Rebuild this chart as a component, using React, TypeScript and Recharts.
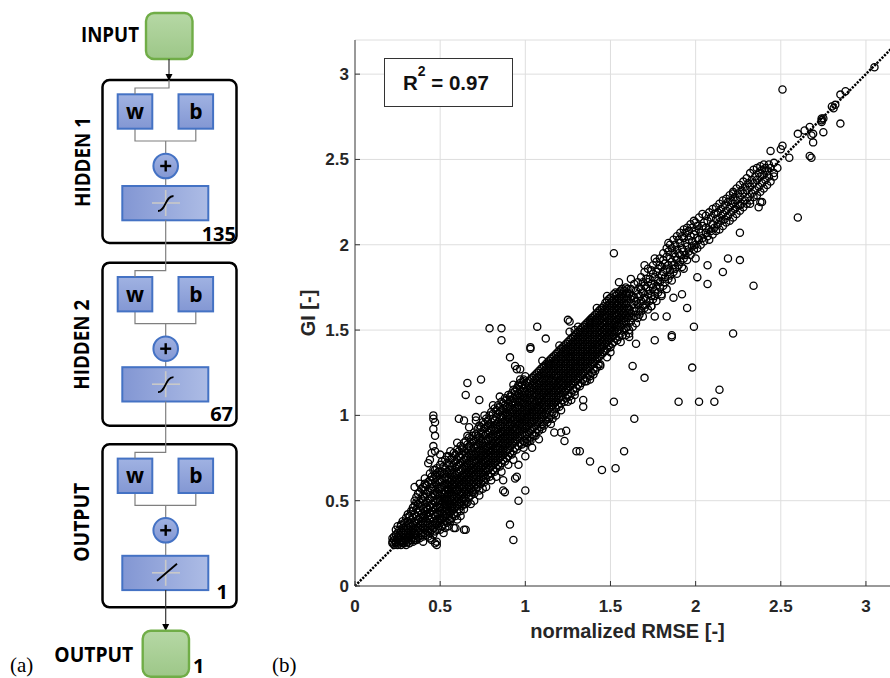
import React from "react";
import { ScatterChart, Scatter, XAxis, YAxis, CartesianGrid, ReferenceLine } from "recharts";

const xTicks = [0, 0.5, 1, 1.5, 2, 2.5, 3];
const yTicks = [0, 0.5, 1, 1.5, 2, 2.5, 3];
const axisMax = 3.2;
const r2Value = "0.97";

const layers = [
  { name: "HIDDEN 1", top: 80, size: "135", linear: false, transTop: 106, sizeX: 236, sizeY: 160.5, nameY: 82 },
  { name: "HIDDEN 2", top: 262.7, size: "67", linear: false, transTop: 104.5, sizeX: 233, sizeY: 158, nameY: 82 },
  { name: "OUTPUT", top: 444.3, size: "1", linear: true, transTop: 111.5, sizeX: 228, sizeY: 155, nameY: 78 },
];

// scatter values in hundredths. band rows: [x, y1, y2, ...]
const bandLow = [
  [22, 25, 26, 28], [23, 24, 27, 29], [24, 25, 26, 30, 33], [25, 24, 27, 28, 31, 35],
  [26, 25, 28, 30, 33], [27, 24, 26, 29, 32, 36], [28, 26, 27, 31, 34, 38], [29, 25, 28, 30, 33, 37],
  [30, 24, 27, 29, 32, 35, 40], [31, 26, 28, 31, 34, 38, 42], [32, 25, 29, 30, 33, 36, 41],
  [33, 27, 28, 32, 35, 39, 44], [34, 26, 30, 33, 36, 40, 46], [35, 28, 31, 34, 37, 42, 47, 50],
  [36, 27, 30, 35, 38, 41, 45, 52], [37, 29, 32, 34, 39, 43, 48, 54], [38, 28, 33, 36, 40, 44, 49, 55],
  [39, 30, 31, 35, 38, 42, 47, 51, 57], [40, 29, 34, 37, 41, 45, 50, 53, 58],
  [41, 31, 33, 36, 40, 44, 48, 52, 56, 60], [42, 30, 35, 38, 42, 46, 49, 54, 59],
  [43, 32, 34, 37, 41, 45, 50, 55, 61], [44, 31, 36, 39, 43, 47, 51, 56, 62, 66],
  [45, 33, 35, 40, 44, 48, 52, 57, 60, 64], [46, 30, 34, 38, 42, 46, 50, 54, 58, 63, 68],
  [47, 32, 37, 41, 45, 49, 53, 56, 61, 65], [48, 33, 36, 39, 43, 47, 51, 55, 59, 64, 69],
  [49, 35, 38, 42, 46, 50, 54, 57, 62, 67],
];

const bandMid = [
  [50, 33, 37, 40, 44, 46, 50, 53, 57, 61, 65, 71], [51, 35, 39, 43, 45, 48, 52, 55, 58, 62, 67, 73],
  [52, 36, 40, 42, 46, 49, 51, 54, 59, 63, 66, 70], [53, 34, 38, 41, 44, 48, 50, 54, 56, 60, 64, 69, 74],
  [54, 37, 42, 45, 47, 51, 53, 57, 60, 62, 67, 72], [55, 39, 41, 44, 48, 50, 54, 56, 59, 63, 66, 71, 76],
  [56, 38, 43, 46, 49, 52, 55, 58, 61, 65, 68, 74], [57, 40, 44, 47, 50, 53, 57, 59, 62, 66, 70, 75],
  [58, 42, 45, 48, 51, 55, 58, 60, 64, 67, 72, 78], [59, 41, 46, 49, 53, 56, 59, 61, 65, 69, 73, 77],
  [60, 43, 47, 50, 52, 56, 60, 62, 66, 70, 74, 80], [61, 45, 48, 51, 54, 58, 61, 63, 67, 71, 76, 79],
  [62, 44, 49, 53, 55, 59, 62, 64, 68, 72, 75, 82], [63, 47, 50, 54, 57, 60, 63, 65, 69, 73, 77, 81],
  [64, 48, 52, 55, 58, 61, 64, 66, 70, 74, 79, 84], [65, 50, 53, 56, 59, 62, 65, 68, 71, 75, 78, 85],
  [66, 49, 54, 57, 60, 63, 66, 69, 72, 76, 80, 83], [67, 52, 55, 58, 61, 64, 67, 70, 73, 77, 82, 87],
  [68, 53, 57, 59, 62, 66, 68, 71, 75, 78, 81, 86], [69, 55, 56, 60, 64, 67, 69, 72, 76, 79, 84, 88],
  [70, 54, 58, 61, 65, 68, 70, 73, 77, 81, 85, 90], [71, 57, 60, 63, 66, 69, 72, 74, 78, 82, 86, 89],
  [72, 58, 61, 64, 67, 70, 73, 76, 79, 83, 88, 92], [73, 56, 62, 65, 68, 71, 74, 77, 80, 84, 87, 94],
  [74, 60, 63, 66, 69, 72, 75, 78, 82, 85, 90, 93], [75, 62, 64, 67, 70, 73, 76, 79, 83, 86, 89, 96],
  [76, 61, 65, 68, 72, 74, 77, 80, 84, 88, 92, 95], [77, 63, 67, 69, 73, 75, 78, 81, 85, 89, 93, 98],
  [78, 65, 68, 71, 74, 77, 79, 82, 86, 90, 94, 97], [79, 64, 69, 72, 75, 78, 80, 83, 87, 91, 95, 100],
  [80, 66, 70, 73, 76, 79, 82, 85, 88, 92, 96, 102], [81, 68, 71, 74, 77, 80, 83, 86, 89, 93, 98, 101],
  [82, 67, 72, 75, 78, 81, 84, 87, 91, 94, 97, 104], [83, 69, 73, 76, 79, 82, 85, 88, 92, 95, 99, 103],
  [84, 71, 74, 77, 80, 84, 86, 89, 93, 96, 101, 106], [85, 70, 75, 78, 81, 85, 88, 90, 94, 98, 102, 105],
  [86, 72, 76, 79, 83, 86, 89, 91, 95, 99, 103, 108], [87, 74, 77, 80, 84, 87, 90, 93, 96, 100, 104, 107],
  [88, 73, 78, 82, 85, 88, 91, 94, 97, 101, 106, 110], [89, 75, 79, 83, 86, 89, 92, 95, 99, 102, 105, 109],
  [90, 76, 80, 84, 87, 90, 93, 96, 100, 104, 107, 112], [91, 78, 82, 85, 88, 91, 94, 98, 101, 105, 109, 111],
  [92, 77, 83, 86, 89, 92, 95, 99, 102, 106, 108, 113], [93, 79, 84, 87, 90, 93, 97, 100, 103, 107, 110, 115],
  [94, 81, 85, 88, 91, 95, 98, 101, 104, 108, 112, 114], [95, 80, 86, 89, 92, 96, 99, 102, 105, 109, 111, 116],
  [96, 82, 87, 90, 94, 97, 100, 103, 106, 110, 113, 117], [97, 84, 88, 91, 95, 98, 101, 104, 108, 111, 115, 119],
  [98, 83, 89, 93, 96, 99, 102, 105, 109, 112, 114, 118], [99, 85, 90, 94, 97, 100, 103, 107, 110, 113, 116, 120],
];

const bandHigh = [
  [100, 84, 88, 92, 95, 98, 101, 104, 107, 110, 114, 118], [101, 86, 89, 93, 96, 99, 102, 105, 108, 112, 115, 119],
  [102, 85, 90, 94, 97, 100, 103, 106, 109, 113, 117, 120], [103, 87, 91, 95, 98, 101, 104, 107, 110, 114, 116, 121],
  [104, 89, 92, 96, 99, 102, 105, 108, 112, 115, 118, 122], [105, 88, 93, 97, 100, 103, 106, 109, 113, 116, 120, 123],
  [106, 90, 94, 98, 101, 104, 107, 111, 114, 117, 121, 124], [107, 92, 96, 99, 102, 105, 108, 112, 115, 118, 122, 125],
  [108, 91, 97, 100, 103, 106, 110, 113, 116, 119, 123, 126], [109, 93, 98, 101, 104, 108, 111, 114, 117, 120, 124, 127],
  [110, 95, 99, 102, 106, 109, 112, 115, 118, 121, 125, 128], [111, 94, 100, 104, 107, 110, 113, 116, 119, 122, 126, 129],
  [112, 97, 101, 105, 108, 111, 114, 117, 120, 124, 127, 130], [113, 99, 103, 106, 109, 112, 115, 118, 121, 125, 128, 131],
  [114, 98, 104, 107, 110, 113, 116, 119, 122, 126, 129, 132], [115, 100, 105, 108, 111, 114, 117, 120, 124, 127, 130, 133],
  [116, 102, 106, 109, 112, 115, 118, 121, 125, 128, 131, 134], [117, 101, 107, 110, 113, 116, 119, 123, 126, 129, 132, 135],
  [118, 104, 108, 111, 114, 117, 120, 124, 127, 130, 133, 136], [119, 106, 109, 112, 115, 118, 122, 125, 128, 131, 134, 137],
  [120, 105, 110, 113, 116, 120, 123, 126, 129, 132, 135, 138], [121, 107, 111, 115, 118, 121, 124, 127, 130, 133, 136, 139],
  [122, 109, 113, 116, 119, 122, 125, 128, 131, 134, 137, 140], [123, 108, 114, 117, 120, 123, 126, 129, 132, 135, 138, 141],
  [124, 110, 115, 118, 121, 124, 127, 130, 133, 136, 139, 142], [125, 112, 116, 119, 122, 125, 128, 131, 134, 137, 140, 143],
  [126, 111, 117, 120, 123, 126, 129, 132, 135, 138, 141, 144], [127, 113, 118, 121, 124, 127, 130, 133, 136, 139, 142, 145],
  [128, 115, 119, 122, 125, 128, 131, 134, 137, 140, 143, 146], [129, 114, 120, 123, 126, 129, 132, 135, 138, 141, 144, 147],
  [130, 116, 121, 124, 127, 130, 133, 136, 139, 142, 145, 148], [131, 118, 122, 125, 128, 131, 134, 137, 140, 143, 146, 149],
  [132, 117, 123, 126, 129, 132, 135, 138, 141, 144, 147, 150], [133, 119, 124, 127, 130, 133, 136, 139, 142, 145, 148, 151],
  [134, 121, 125, 128, 131, 134, 137, 140, 143, 146, 149, 152], [135, 120, 126, 129, 132, 135, 138, 141, 144, 147, 150, 153],
  [136, 122, 127, 130, 133, 136, 139, 142, 145, 148, 151, 154], [137, 124, 128, 131, 134, 137, 140, 143, 146, 149, 152, 155],
  [138, 123, 129, 132, 135, 138, 141, 144, 147, 150, 153, 156], [139, 125, 130, 133, 136, 139, 142, 145, 148, 151, 154, 157],
  [140, 127, 131, 134, 137, 140, 143, 146, 149, 152, 155, 158], [141, 126, 132, 135, 138, 141, 144, 147, 150, 153, 156, 159],
  [142, 128, 133, 136, 139, 142, 145, 148, 151, 154, 157, 160], [143, 130, 134, 137, 140, 143, 146, 149, 152, 155, 158, 161],
  [144, 129, 135, 138, 141, 144, 147, 150, 153, 156, 159, 162],
  [145, 136, 140, 143, 146, 149, 152, 154, 157, 160, 163], [146, 137, 141, 144, 147, 150, 153, 155, 158, 161, 164],
  [147, 138, 142, 145, 148, 151, 154, 157, 159, 162, 166], [148, 139, 143, 146, 149, 152, 155, 158, 161, 164, 167],
  [149, 141, 144, 147, 150, 153, 156, 159, 162, 165, 168], [150, 140, 145, 148, 151, 154, 157, 160, 163, 166, 169],
  [151, 142, 146, 149, 152, 155, 158, 161, 164, 167], [152, 143, 147, 150, 153, 156, 159, 162, 165, 168, 171],
  [153, 145, 148, 152, 155, 158, 160, 163, 166, 170], [154, 144, 149, 153, 156, 159, 162, 165, 168, 171],
  [155, 146, 150, 154, 157, 160, 163, 166, 169, 172], [156, 148, 152, 155, 158, 161, 164, 167, 170, 173],
  [157, 147, 153, 156, 159, 162, 165, 168, 171, 174], [158, 150, 154, 157, 160, 163, 166, 169, 173],
  [159, 151, 155, 159, 162, 165, 168, 171, 175], [160, 152, 157, 160, 163, 166, 169, 172, 174],
];

const bandTop = [
  [161, 150, 158, 162, 171], [162, 155, 160, 168, 174], [163, 152, 157, 165, 170], [164, 158, 163, 169, 177],
  [165, 154, 161, 167, 173], [166, 157, 165, 171, 178], [167, 159, 162, 170, 175], [168, 161, 167, 174, 181],
  [169, 158, 164, 172, 178], [170, 163, 169, 176, 184], [171, 165, 168, 175, 180], [172, 162, 171, 178, 186],
  [173, 167, 173, 180], [174, 164, 170, 177, 185], [175, 168, 175, 183, 188], [176, 170, 173, 181],
  [177, 167, 176, 184, 190], [178, 172, 179, 186], [179, 175, 178, 188, 192], [180, 171, 182, 187],
  [181, 176, 184, 191, 195], [182, 178, 181, 189], [183, 174, 186, 193, 198], [184, 180, 188, 196],
  [185, 182, 185, 192, 200], [186, 179, 190, 198], [187, 184, 188, 195, 203], [188, 186, 193, 200],
  [189, 183, 191, 197, 205], [190, 188, 195, 203], [191, 190, 194, 201, 207], [192, 187, 198, 205],
  [193, 192, 196, 204, 209], [194, 194, 201, 207], [195, 191, 199, 210], [196, 196, 203, 208],
  [197, 194, 205, 212], [198, 199, 202, 210], [199, 197, 206, 214], [200, 200, 208, 213],
  [201, 198, 204, 211], [202, 203, 209, 216], [203, 200, 207], [204, 204, 211, 218], [205, 202, 213],
  [206, 207, 210, 217], [207, 205, 214], [208, 203, 209, 219], [209, 208, 216], [210, 206, 212, 221],
  [211, 210, 218], [212, 208, 215, 222], [213, 212, 219], [214, 209, 216, 224], [215, 214, 221],
  [216, 211, 218, 226], [217, 215, 223], [218, 213, 220, 227], [219, 217, 225], [220, 214, 222, 229],
  [221, 219, 226], [222, 216, 224, 231], [223, 221, 228], [224, 218, 226, 233], [225, 223, 230],
  [226, 220, 228, 235], [227, 224, 232], [228, 222, 230, 237], [229, 226, 234], [230, 224, 232, 239],
  [231, 228, 236], [232, 226, 234, 242], [233, 230, 238], [234, 228, 236, 244], [235, 232, 240],
  [236, 229, 238, 245], [237, 234, 242], [238, 231, 240, 246], [239, 236, 244], [240, 233, 241, 247],
  [241, 238, 245], [242, 235, 243], [243, 240, 247], [244, 237, 245], [246, 242, 248], [248, 245],
];

// single points [x, y] in hundredths
const upperCluster = [
  [251, 291], [260, 265], [264, 267], [267, 269], [269, 265], [268, 264], [269, 260], [267, 252], [268, 251],
  [274, 274], [274, 273], [275, 266], [274, 272], [275, 274], [280, 281], [282, 282], [281, 280], [285, 271],
  [285, 288], [288, 290], [305, 304], [251, 258], [250, 256], [255, 251], [244, 255], [260, 216], [246, 240],
];

const outliersAbove = [
  [79, 151], [86, 151], [86, 144], [107, 152], [112, 145], [103, 140], [126, 155], [126, 149], [129, 150],
  [138, 154], [91, 134], [94, 129], [95, 127], [99, 121], [97, 121], [96, 118], [114, 130], [126, 134],
  [66, 119], [74, 121], [65, 112], [73, 109], [81, 106], [61, 98], [64, 97], [71, 99], [71, 97], [66, 88],
  [63, 80], [46, 100], [46, 98], [47, 96], [46, 92], [47, 88], [46, 82], [47, 79], [45, 78], [43, 72],
  [44, 74], [54, 76], [47, 68], [48, 66], [35, 58], [36, 49], [34, 44], [32, 41], [27, 35], [152, 195],
  [97, 127], [103, 139], [125, 156], [138, 155], [153, 172], [93, 118], [67, 93], [56, 79], [41, 63],
  [38, 60], [50, 77], [60, 84], [76, 100], [85, 111], [100, 123], [110, 132], [120, 141], [131, 152],
  [142, 163], [148, 170], [155, 178], [162, 180], [170, 188], [176, 192], [184, 201], [193, 186],
];

const outliersBelow = [
  [108, 86], [104, 81], [100, 76], [100, 56], [96, 50], [91, 36], [93, 27], [88, 55], [94, 63], [95, 64],
  [96, 71], [87, 62], [87, 56], [64, 33], [58, 34], [56, 39], [64, 45], [65, 48], [57, 46], [59, 34],
  [65, 33], [48, 26], [48, 24], [45, 27], [44, 28], [36, 27], [28, 25], [47, 25], [35, 27],
  [115, 95], [117, 90], [121, 90], [124, 91], [123, 85], [130, 79], [138, 73], [145, 68], [153, 69],
  [158, 79], [132, 79], [134, 109], [134, 105], [127, 109], [152, 108], [164, 98], [190, 108],
  [202, 108], [211, 108], [214, 115], [198, 128], [163, 129], [170, 122], [165, 142], [161, 146],
  [161, 148], [176, 144], [186, 147], [186, 146], [199, 152], [222, 148], [195, 163], [183, 158],
  [176, 158], [180, 170], [174, 164], [187, 169], [192, 171], [201, 181], [200, 192], [207, 188],
  [207, 177], [216, 184], [219, 192], [226, 191], [234, 176], [226, 207], [222, 230], [232, 224],
  [226, 223], [238, 225], [237, 222], [239, 225],
  [40, 26], [43, 29], [52, 31], [55, 35], [60, 39], [62, 41], [68, 48], [70, 50], [73, 53], [77, 58],
  [80, 62], [83, 64], [86, 67], [90, 71], [93, 74], [99, 81], [103, 85], [106, 88], [110, 92],
  [113, 96], [118, 100], [121, 103], [125, 108], [129, 112], [136, 120], [140, 124], [144, 130],
  [148, 134], [156, 143], [159, 147], [75, 57], [101, 84], [116, 98], [138, 121], [150, 137],
];

const fromRows = (rows: number[][]) =>
  rows.flatMap(([x, ...ys]) => ys.map((y) => ({ x: x / 100, y: y / 100 })));
const fromPairs = (rows: number[][]) => rows.map(([x, y]) => ({ x: x / 100, y: y / 100 }));

const points = [
  ...fromRows(bandLow),
  ...fromRows(bandMid),
  ...fromRows(bandHigh),
  ...fromRows(bandTop),
  ...fromPairs(upperCluster),
  ...fromPairs(outliersAbove),
  ...fromPairs(outliersBelow),
];

const SANS = "'Liberation Sans', Arial, Helvetica, sans-serif";
const DIAG = "'Open Sans', 'Liberation Sans', sans-serif";
const WIRE = "#7f7f7f";
const BLUE = "#4472c4";

const ring = (p: any) => (
  <circle cx={p.cx} cy={p.cy} r={3.6} fill="none" stroke="#000" strokeWidth={1.3} />
);

const BottomTick = (p: any) => (
  <g>
    <line x1={p.x} y1={p.y} x2={p.x} y2={p.y - 5} stroke="#333" />
    <text x={p.x} y={p.y + 26} textAnchor="middle" fontFamily={SANS} fontSize={17} fontWeight={700} fill="#262626">
      {String(p.payload.value)}
    </text>
  </g>
);

const TopTick = (p: any) => <line x1={p.x} y1={p.y} x2={p.x} y2={p.y + 5} stroke="#333" />;

const LeftTick = (p: any) => (
  <g>
    <line x1={p.x} y1={p.y} x2={p.x + 5} y2={p.y} stroke="#333" />
    <text x={p.x - 6} y={p.y + 6} textAnchor="end" fontFamily={SANS} fontSize={17} fontWeight={700} fill="#262626">
      {String(p.payload.value)}
    </text>
  </g>
);

function Layer({ l }: { l: (typeof layers)[number] }) {
  const T = l.top;
  const tt = T + l.transTop;
  const cx = 165.7;
  return (
    <g>
      <rect x={102.5} y={T} width={134} height={163} rx={7} fill="#fff" stroke="#000" strokeWidth={2.5} />
      <polyline points={`135,${T + 48} 135,${T + 61} 195.8,${T + 61} 195.8,${T + 48}`} fill="none" stroke={WIRE} strokeWidth={1.2} />
      <line x1={cx} y1={T + 61} x2={cx} y2={T + 74} stroke={WIRE} strokeWidth={1.2} />
      <line x1={cx} y1={T + 98} x2={cx} y2={tt} stroke={WIRE} strokeWidth={1.2} />
      <rect x={117.7} y={T + 14.3} width={34.6} height={34.4} fill="url(#gBlue)" stroke={BLUE} strokeWidth={2} />
      <rect x={178.5} y={T + 14.3} width={34.6} height={34.4} fill="url(#gBlue)" stroke={BLUE} strokeWidth={2} />
      <text x={135} y={T + 39} textAnchor="middle" fontFamily={DIAG} fontWeight={700} fontSize={21}>w</text>
      <text x={195.8} y={T + 39} textAnchor="middle" fontFamily={DIAG} fontWeight={700} fontSize={21}>b</text>
      <circle cx={cx} cy={T + 86} r={12.3} fill="url(#gBlue)" stroke={BLUE} strokeWidth={2} />
      <line x1={cx - 5.5} y1={T + 86} x2={cx + 5.5} y2={T + 86} stroke="#000" strokeWidth={2.4} />
      <line x1={cx} y1={T + 80.5} x2={cx} y2={T + 91.5} stroke="#000" strokeWidth={2.4} />
      <rect x={122.3} y={tt} width={86} height={34.3} fill="url(#gTrans)" stroke={BLUE} strokeWidth={2} />
      <line x1={152} y1={tt + 17} x2={180} y2={tt + 17} stroke="#c9c9c9" strokeWidth={1.6} />
      <line x1={cx} y1={tt + 4} x2={cx} y2={tt + 30} stroke="#c9c9c9" strokeWidth={1.6} />
      {l.linear ? (
        <line x1={157} y1={tt + 25} x2={177} y2={tt + 8} stroke="#000" strokeWidth={1.8} />
      ) : (
        <path d={`M158,${tt + 25} C166,${tt + 25} 165,${tt + 10} 173.5,${tt + 10}`} fill="none" stroke="#000" strokeWidth={1.8} />
      )}
      <text x={l.sizeX} y={T + l.sizeY} textAnchor="end" fontFamily={DIAG} fontWeight={700} fontSize={20}>{l.size}</text>
      <text
        x={82}
        y={T + l.nameY}
        transform={`rotate(-90 82 ${T + l.nameY})`}
        textAnchor="middle"
        dy={7.5}
        fontFamily={DIAG}
        fontWeight={700}
        fontSize={21}
        textLength={l.name === "OUTPUT" ? 79 : 90}
        lengthAdjust="spacingAndGlyphs"
      >
        {l.name}
      </text>
    </g>
  );
}

function Network() {
  return (
    <svg width={290} height={678} style={{ position: "absolute", left: 0, top: 0 }}>
      <defs>
        <linearGradient id="gBlue" x1="0" y1="0" x2="0" y2="1">
          <stop offset="0" stopColor="#a0b2e2" />
          <stop offset="1" stopColor="#8397d3" />
        </linearGradient>
        <linearGradient id="gTrans" x1="0" y1="0" x2="1" y2="0">
          <stop offset="0" stopColor="#8296d3" />
          <stop offset="1" stopColor="#adbce5" />
        </linearGradient>
        <linearGradient id="gGreen" x1="0" y1="0" x2="0" y2="1">
          <stop offset="0" stopColor="#b6d8a5" />
          <stop offset="1" stopColor="#9dc788" />
        </linearGradient>
      </defs>
      <text x={139} y={42} textAnchor="end" fontFamily={DIAG} fontWeight={700} fontSize={20.5} textLength={58} lengthAdjust="spacingAndGlyphs">INPUT</text>
      <rect x={146} y={13} width={46.5} height={46} rx={8} fill="url(#gGreen)" stroke="#70ad47" strokeWidth={2.4} />
      {layers.map((l) => (
        <Layer key={l.name} l={l} />
      ))}
      <line x1={169} y1={59} x2={169} y2={76} stroke="#333" strokeWidth={1.2} />
      <polygon points="165.5,74 172.5,74 169,81" fill="#000" />
      <polyline points={`169,80 169,88 135,88 135,94.3`} fill="none" stroke={WIRE} strokeWidth={1.2} />
      {layers.slice(1).map((l, i) => {
        const prev = layers[i];
        const from = prev.top + prev.transTop + 34.3;
        return (
          <polyline
            key={l.name}
            points={`165.7,${from} 165.7,${l.top + 8} 135,${l.top + 8} 135,${l.top + 14.3}`}
            fill="none"
            stroke={WIRE}
            strokeWidth={1.2}
          />
        );
      })}
      <line x1={165.7} y1={590} x2={165.7} y2={626} stroke="#333" strokeWidth={1.2} />
      <polygon points="162.2,624 169.2,624 165.7,631" fill="#000" />
      <rect x={142.7} y={630.7} width={46.3} height={46} rx={8} fill="url(#gGreen)" stroke="#70ad47" strokeWidth={2.4} />
      <text x={133.3} y={662} textAnchor="end" fontFamily={DIAG} fontWeight={700} fontSize={21} textLength={79} lengthAdjust="spacingAndGlyphs">OUTPUT</text>
      <text x={193} y={673} fontFamily={DIAG} fontWeight={700} fontSize={20}>1</text>
      <text x={10} y={672} fontFamily="'Liberation Serif', 'Times New Roman', serif" fontSize={21}>(a)</text>
    </svg>
  );
}

export default function App() {
  return (
    <div style={{ position: "absolute", left: 0, top: 0, width: 890, height: 678, overflow: "hidden", background: "#fff" }}>
      <Network />
      <div style={{ position: "absolute", left: 290, top: 0 }}>
        <ScatterChart width={620} height={678} margin={{ top: 40, right: 10, bottom: 32, left: 0 }}>
          <CartesianGrid stroke="#dedede" />
          <XAxis
            dataKey="x"
            type="number"
            domain={[0, axisMax]}
            ticks={xTicks}
            interval={0}
            height={60}
            tickSize={0}
            tickMargin={0}
            tick={BottomTick}
            axisLine={{ stroke: "#444" }}
            allowDataOverflow
          />
          <XAxis
            xAxisId="top"
            orientation="top"
            dataKey="x"
            type="number"
            domain={[0, axisMax]}
            ticks={xTicks}
            interval={0}
            height={0}
            tickSize={0}
            tickMargin={0}
            tick={TopTick}
            axisLine={{ stroke: "#444" }}
            allowDataOverflow
          />
          <YAxis
            dataKey="y"
            type="number"
            domain={[0, axisMax]}
            ticks={yTicks}
            interval={0}
            width={65}
            tickSize={0}
            tickMargin={0}
            tick={LeftTick}
            axisLine={{ stroke: "#444" }}
            allowDataOverflow
          />
          <Scatter data={points} shape={ring} isAnimationActive={false} />
          <ReferenceLine
            segment={[{ x: 0, y: 0 }, { x: axisMax, y: axisMax }]}
            stroke="#000"
            strokeWidth={2.5}
            strokeDasharray="2.2 1.3"
          />
        </ScatterChart>
      </div>
      <svg width={890} height={678} style={{ position: "absolute", left: 0, top: 0, pointerEvents: "none" }}>
        <rect x={384.5} y={58.5} width={128} height={48} fill="#fff" stroke="#333" strokeWidth={1} />
        <text x={403} y={89.5} fontFamily={SANS} fontWeight={700} fontSize={20.5} fill="#111">
          <tspan>R</tspan>
          <tspan dy={-14} fontSize={14}>2</tspan>
          <tspan dy={14}>{" = " + r2Value}</tspan>
        </text>
        <text x={627.5} y={638} textAnchor="middle" fontFamily={SANS} fontWeight={700} fontSize={20} fill="#262626">
          normalized RMSE [-]
        </text>
        <text x={315} y={313} transform="rotate(-90 315 313)" textAnchor="middle" fontFamily={SANS} fontWeight={700} fontSize={20} fill="#262626">
          GI [-]
        </text>
        <text x={272} y={672} fontFamily="'Liberation Serif', 'Times New Roman', serif" fontSize={21}>(b)</text>
      </svg>
    </div>
  );
}
